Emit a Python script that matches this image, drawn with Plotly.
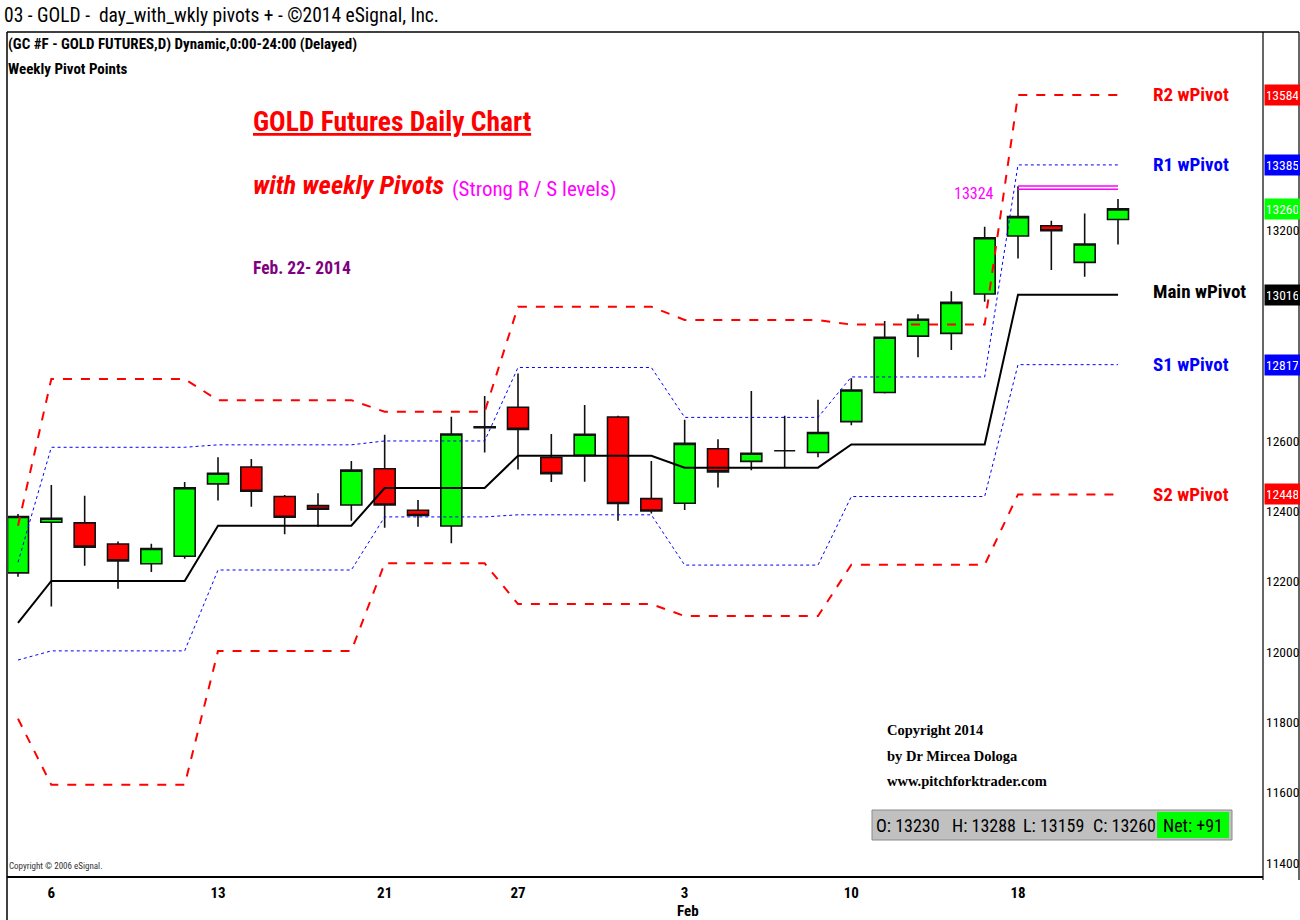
import plotly.graph_objects as go

# ---------------- data ----------------
bar_dates = ["Jan 3", "Jan 6", "Jan 7", "Jan 8", "Jan 9", "Jan 10",
             "Jan 13", "Jan 14", "Jan 15", "Jan 16", "Jan 17",
             "Jan 21", "Jan 22", "Jan 23", "Jan 24",
             "Jan 27", "Jan 28", "Jan 29", "Jan 30", "Jan 31",
             "Feb 3", "Feb 4", "Feb 5", "Feb 6", "Feb 7",
             "Feb 10", "Feb 11", "Feb 12", "Feb 13", "Feb 14",
             "Feb 18", "Feb 19", "Feb 20", "Feb 21"]
opens  = [12225, 12369, 12367, 12307, 12251, 12272, 12478, 12526, 12442, 12416, 12418,
          12521, 12403, 12358, 12640, 12696, 12553, 12559, 12668, 12436,
          12423, 12578, 12542, 12572, 12567, 12655, 12738, 12898, 12906, 13018,
          13183, 13212, 13108, 13230]
highs  = [12392, 12475, 12444, 12314, 12308, 12483, 12554, 12549, 12446, 12451, 12543,
          12618, 12432, 12669, 12728, 12792, 12620, 12702, 12672, 12543,
          12660, 12605, 12742, 12672, 12717, 12778, 12941, 12960, 13026, 13209,
          13324, 13226, 13247, 13288]
lows   = [12214, 12129, 12245, 12180, 12227, 12265, 12431, 12413, 12335, 12356, 12373,
          12353, 12356, 12309, 12567, 12519, 12483, 12484, 12373, 12394,
          12404, 12468, 12517, 12524, 12554, 12645, 12735, 12838, 12859, 12996,
          13119, 13086, 13067, 13159]
closes = [12385, 12380, 12298, 12259, 12294, 12467, 12508, 12457, 12383, 12406, 12517,
          12418, 12388, 12620, 12638, 12633, 12507, 12619, 12422, 12401,
          12593, 12512, 12565, 12572, 12624, 12745, 12895, 12946, 12994, 13178,
          13238, 13198, 13160, 13260]

# weekly pivot levels (one value per week) and number of bars in each week
week_bars  = [1, 5, 5, 4, 5, 5, 5, 4]
piv_main   = [12083, 12202, 12359, 12466, 12558, 12524, 12590, 13016]
piv_r1     = [12255, 12582, 12589, 12600, 12809, 12667, 12782, 13385]
piv_s1     = [11977, 12003, 12233, 12384, 12390, 12247, 12442, 12817]
piv_r2     = [12359, 12776, 12716, 12683, 12982, 12944, 12931, 13584]
piv_s2     = [11810, 11622, 12003, 12252, 12136, 12102, 12248, 12448]

strong_level_hi = 13325
strong_level_lo = 13316
strong_label = "13324"
strong_from_bar = 30

tick_bars   = [1, 6, 11, 15, 20, 25, 30]
tick_labels = ["6", "13", "21", "27", "3", "10", "18"]
y_ticks     = [11400, 11600, 11800, 12000, 12200, 12400, 12600, 13200]

last_ohlc = [("O", 13230), ("H", 13288), ("L", 13159), ("C", 13260)]
net_change = "+91"


def expand(levels, counts):
    out = []
    for v, n in zip(levels, counts):
        out += [v] * n
    return out


xi = list(range(len(bar_dates)))

# ---------------- layout geometry ----------------
L, R, T, B = 8, 1263, 32, 877
W, H = R - L, B - T


def px(x):
    return (x - L) / W


def py(y):
    return (B - y) / H


NARROW = "Roboto Condensed, Liberation Sans Narrow, Arial Narrow, sans-serif"
SERIF = "Liberation Serif, Times New Roman, serif"

fig = go.Figure()

# pivot lines
line_specs = [
    (piv_r2, dict(color="#ff0000", width=2, dash="dash")),
    (piv_s2, dict(color="#ff0000", width=2, dash="dash")),
    (piv_r1, dict(color="#0000ff", width=1, dash="dot")),
    (piv_s1, dict(color="#0000ff", width=1, dash="dot")),
    (piv_main, dict(color="#000000", width=2)),
]
for lv, ln in line_specs:
    fig.add_trace(go.Scatter(x=xi, y=expand(lv, week_bars), mode="lines",
                             line=ln, hoverinfo="skip", showlegend=False))

# strong resistance (double magenta line)
for lvl in (strong_level_hi, strong_level_lo):
    fig.add_trace(go.Scatter(x=xi[strong_from_bar:], y=[lvl] * (len(xi) - strong_from_bar),
                             mode="lines", line=dict(color="#ff00ff", width=1.5),
                             hoverinfo="skip", showlegend=False))

# candles
fig.add_trace(go.Candlestick(
    x=xi, open=opens, high=highs, low=lows, close=closes,
    increasing=dict(fillcolor="#00ff00", line=dict(color="#111111", width=1.6)),
    decreasing=dict(fillcolor="#ff0000", line=dict(color="#111111", width=1.6)),
    showlegend=False,
))

ann = []


def txt(x, y, text, size, color="black", family=NARROW, xanchor="left", yanchor="middle", **kw):
    ann.append(dict(xref="paper", yref="paper", x=px(x), y=py(y), text=text,
                    showarrow=False, xanchor=xanchor, yanchor=yanchor,
                    font=dict(family=family, size=size, color=color), **kw))


# header texts
txt(2, 16, "03 - GOLD -  day_with_wkly pivots + - ©2014 eSignal, Inc.", 19.5)
txt(6, 44, "<b>(GC #F - GOLD FUTURES,D) Dynamic,0:00-24:00 (Delayed)</b>", 15)
txt(6, 69, "<b>Weekly Pivot Points</b>", 15)

# chart titles
txt(251, 122, "<b><u>GOLD Futures Daily Chart</u></b>", 27.5, "#ff0000")
txt(251, 184, "<b><i>with weekly Pivots</i></b>", 26.5, "#ff0000")
txt(450, 189, "(Strong R / S levels)", 21, "#ff00ff")
txt(251, 268, "<b>Feb. 22- 2014</b>", 17.5, "#800080")

# strong level label
ann.append(dict(xref="paper", yref="y", x=px(974), y=strong_level_hi - 20, text=strong_label,
                showarrow=False, xanchor="center", yanchor="middle",
                font=dict(family=NARROW, size=16, color="#ff00ff")))

# pivot names at right
names = [("R2 wPivot", piv_r2[-1], "#ff0000"), ("R1 wPivot", piv_r1[-1], "#0000ff"),
         ("Main wPivot", piv_main[-1] + 10, "#000000"), ("S1 wPivot", piv_s1[-1], "#0000ff"),
         ("S2 wPivot", piv_s2[-1], "#ff0000")]
for name, lv, col in names:
    ann.append(dict(xref="paper", yref="y", x=px(1151), y=lv, text="<b>" + name + "</b>",
                    showarrow=False, xanchor="left", yanchor="middle",
                    font=dict(family=NARROW, size=19, color=col)))

# value boxes on the price axis
boxes = [(piv_r2[-1], "#ff0000"), (piv_r1[-1], "#0000ff"), (closes[-1], "#00ff00"),
         (piv_main[-1], "#000000"), (piv_s1[-1], "#0000ff"), (piv_s2[-1], "#ff0000")]
for lv, col in boxes:
    ann.append(dict(xref="paper", yref="y", x=px(1263.5), y=lv, text=str(lv),
                    showarrow=False, xanchor="left", yanchor="middle",
                    bgcolor=col, borderpad=2, width=31, align="center",
                    font=dict(family=NARROW, size=13.5, color="white")))

# copyright block
txt(885, 730, "<b>Copyright 2014</b>", 14.5, family=SERIF)
txt(885, 756, "<b>by Dr Mircea Dologa</b>", 14.5, family=SERIF)
txt(885, 781, "<b>www.pitchforktrader.com</b>", 14.5, family=SERIF)

# OHLC readout
ohlc_x = [874, 950, 1021, 1091]
for (k, v), xx in zip(last_ohlc, ohlc_x):
    txt(xx, 825, "%s: %d" % (k, v), 18)
txt(1161, 825, "Net: " + net_change, 18)

txt(7, 866, "Copyright © 2006 eSignal.", 9, "#333333")

# month label under "3"
ann.append(dict(xref="x", yref="paper", x=tick_bars[4] + 0.1, y=py(911), text="<b>Feb</b>",
                showarrow=False, xanchor="center", yanchor="middle",
                font=dict(family=NARROW, size=15, color="black")))

shapes = [
    # OHLC box
    dict(type="rect", xref="paper", yref="paper", x0=px(872), x1=px(1232), y0=py(840), y1=py(810),
         fillcolor="#c0c0c0", line=dict(color="#8a8a8a", width=1), layer="below"),
    dict(type="rect", xref="paper", yref="paper", x0=px(1157), x1=px(1229), y0=py(838), y1=py(812),
         fillcolor="#00ff00", line=dict(width=0), layer="below"),
    # frame
    dict(type="line", xref="paper", yref="paper", x0=px(7), x1=px(1299), y0=py(32), y1=py(32),
         line=dict(color="black", width=1.5)),
    dict(type="line", xref="paper", yref="paper", x0=px(7), x1=px(7), y0=py(32), y1=py(920),
         line=dict(color="black", width=1.5)),
    dict(type="line", xref="paper", yref="paper", x0=px(7), x1=px(1263), y0=py(877), y1=py(877),
         line=dict(color="black", width=2)),
    dict(type="line", xref="paper", yref="paper", x0=px(1263), x1=px(1263), y0=py(32), y1=py(880),
         line=dict(color="black", width=1.2)),
    dict(type="line", xref="paper", yref="paper", x0=px(1299), x1=px(1299), y0=py(32), y1=py(880),
         line=dict(color="black", width=1.2)),
]

fig.update_layout(
    width=1300, height=920,
    margin=dict(l=L, r=1300 - R, t=T, b=920 - B, autoexpand=False),
    paper_bgcolor="white", plot_bgcolor="white",
    showlegend=False,
    annotations=ann, shapes=shapes,
    boxgap=0.37, boxgroupgap=0,
    xaxis=dict(range=[-0.3, 37.35], tickmode="array", tickvals=tick_bars, ticktext=tick_labels,
               showgrid=False, zeroline=False, showline=False, ticks="",
               ticklabelstandoff=5, automargin=False,
               tickfont=dict(family=NARROW, size=15, color="black", weight="bold"),
               rangeslider=dict(visible=False), fixedrange=True),
    yaxis=dict(range=[11360, 13763], side="right", tickmode="array", tickvals=y_ticks,
               ticktext=[str(v) for v in y_ticks], showgrid=False, zeroline=False,
               showline=False, ticks="", ticklabelstandoff=2, automargin=False,
               tickfont=dict(family=NARROW, size=13.5, color="black"), fixedrange=True),
)

fig.write_html("out.html", config={"displayModeBar": False},
               post_script="document.body.style.margin='0px';document.body.style.overflow='hidden';")
